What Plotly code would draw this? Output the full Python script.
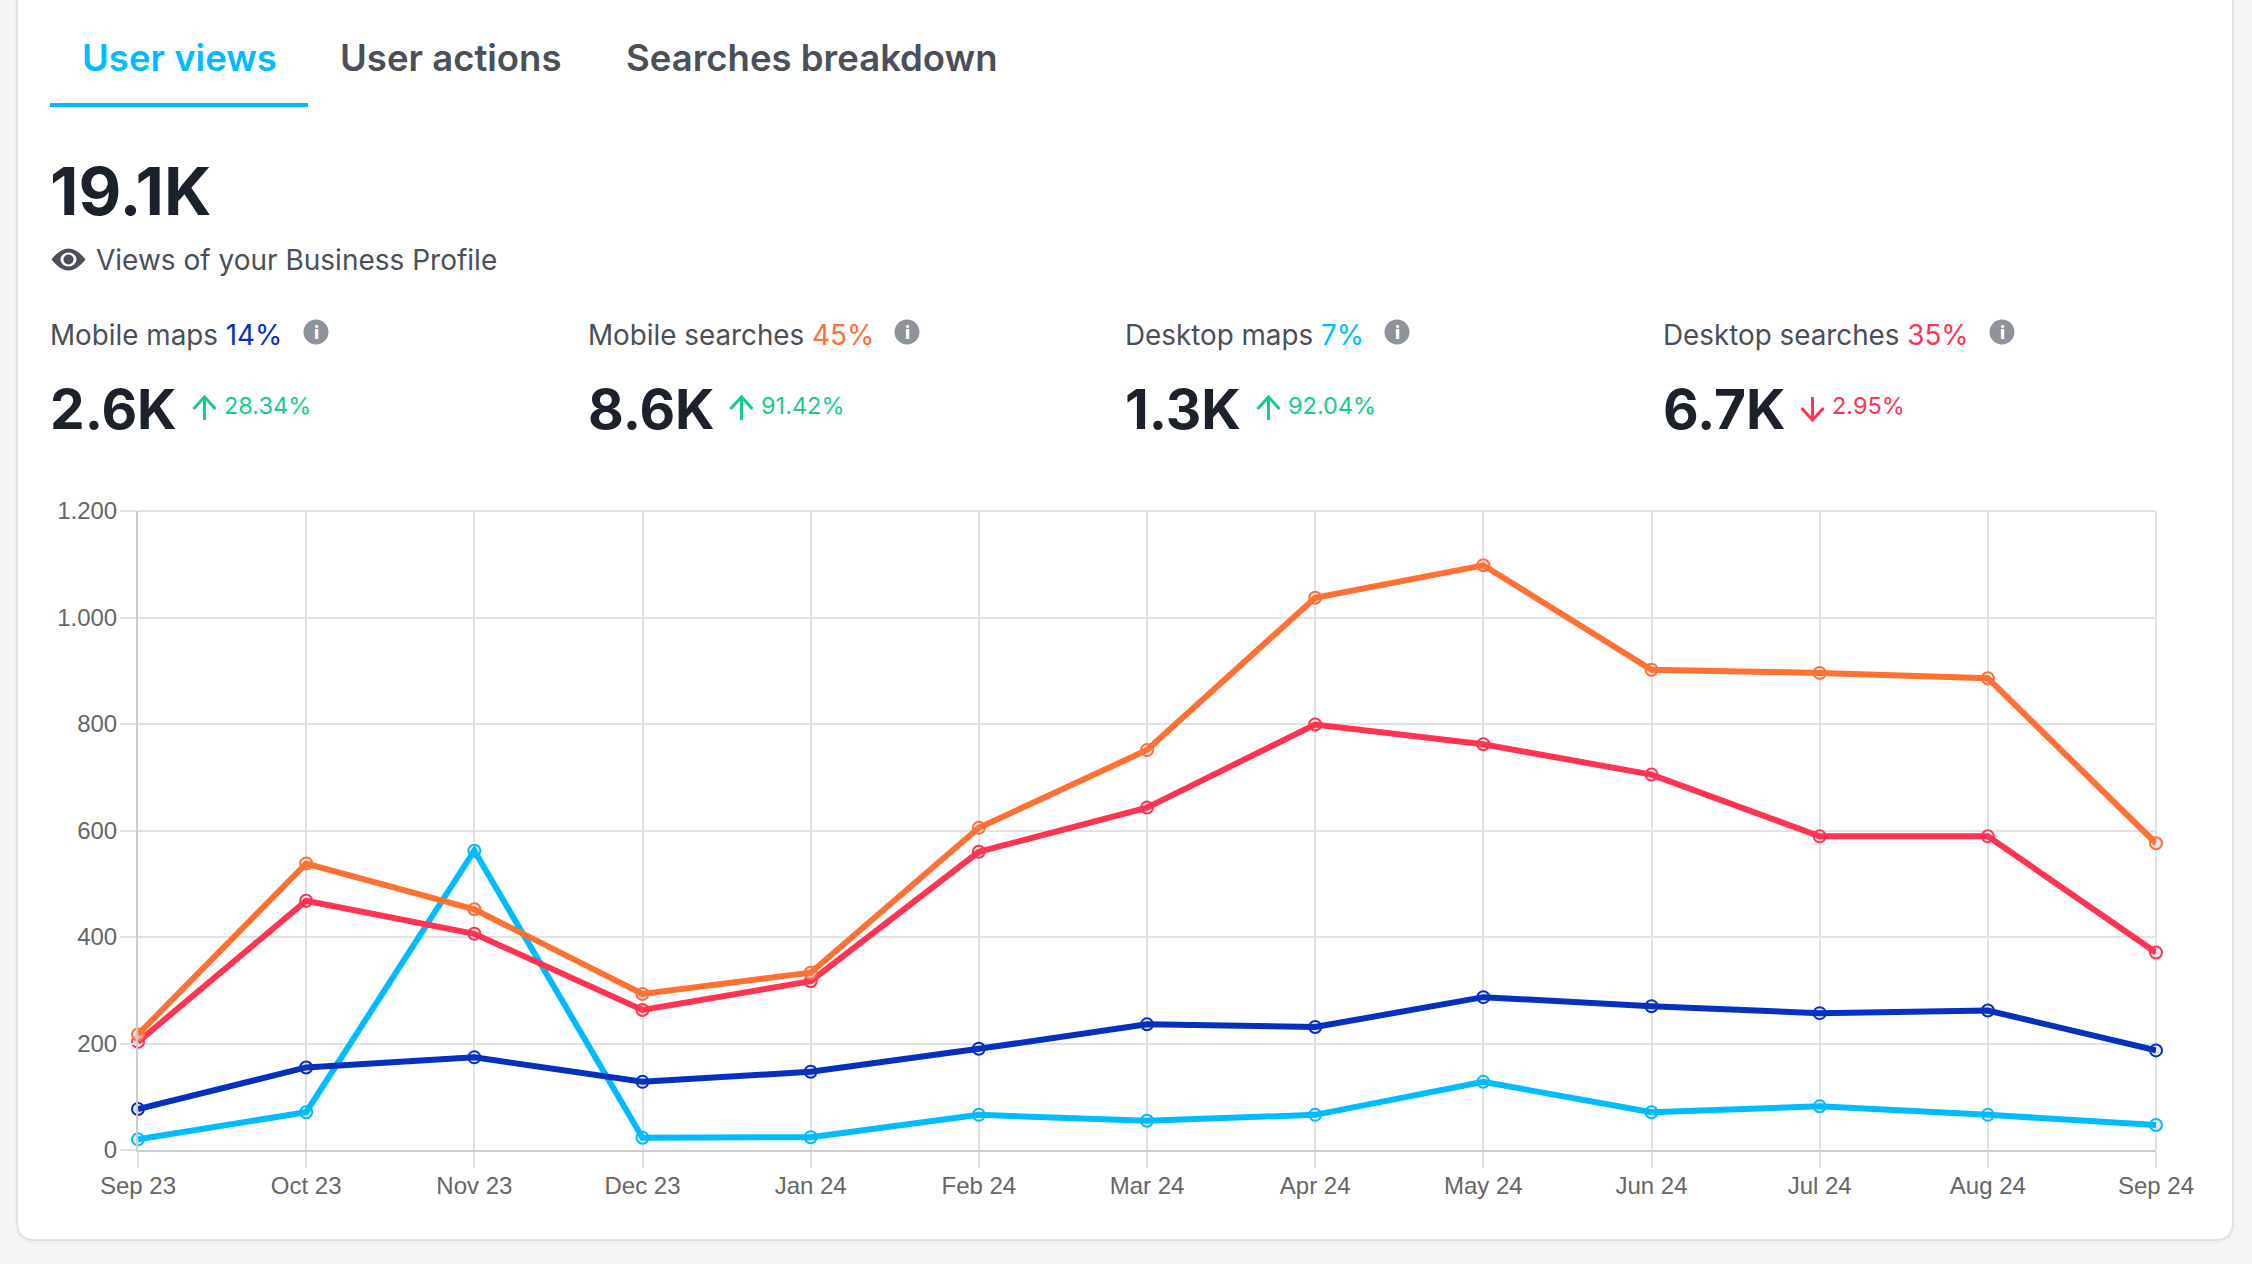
import plotly.graph_objects as go

W = 2252
H = 1264

months = ['Sep 23', 'Oct 23', 'Nov 23', 'Dec 23', 'Jan 24', 'Feb 24', 'Mar 24',
          'Apr 24', 'May 24', 'Jun 24', 'Jul 24', 'Aug 24', 'Sep 24']
mobile_maps = [77, 155, 174, 128, 147, 190, 236, 231, 287, 270, 257, 262, 187]
mobile_searches = [217, 538, 452, 293, 333, 605, 751, 1037, 1098, 902, 896, 886, 576]
desktop_maps = [20, 71, 562, 23, 24, 66, 55, 66, 128, 71, 82, 66, 47]
desktop_searches = [203, 468, 406, 263, 317, 560, 643, 799, 762, 705, 589, 589, 371]
y_ticks = [0, 200, 400, 600, 800, 1000, 1200]
y_labels = ['0', '200', '400', '600', '800', '1.000', '1.200']

BLUE = '#0531BD'
CYAN = '#00BCFF'
ORANGE = '#FF7033'
RED = '#FF3352'
GREEN = '#16CC88'
DARK = '#1C222C'
GREY = '#4A4F5A'
GRID = '#E2E2E2'

# name, value, share, colour, change, going up
tiles = [
    ('Mobile maps', '2.6K', '14%', BLUE, '28.34%', True),
    ('Mobile searches', '8.6K', '45%', ORANGE, '91.42%', True),
    ('Desktop maps', '1.3K', '7%', CYAN, '92.04%', True),
    ('Desktop searches', '6.7K', '35%', RED, '2.95%', False),
]
tile_x = [49, 587, 1124, 1662]
info_x = [316, 907, 1397, 2002]
arrow_x = [204.5, 741.5, 1268.5, 1812.5]
change_x = [223, 760, 1287, 1831]


# everything outside the plot is placed in screen pixels
def px(x):
    return x / W


def py(y):
    return 1 - y / H


def path(points):
    return 'M' + ' L'.join(f'{px(x):.5f},{py(y):.5f}' for x, y in points)


def label(text, x, y, size, color, weight=400, family='Inter'):
    fig.add_annotation(text=text, x=px(x), y=py(y), xref='paper', yref='paper',
                       xanchor='left', yanchor='middle', showarrow=False, borderpad=0,
                       font=dict(family=family, size=size, color=color, weight=weight))


def shape_path(d, fill=None, line=None, width=0):
    fig.add_shape(type='path', path=d, xref='paper', yref='paper', layer='below',
                  fillcolor=fill, line=dict(color=line, width=width))


def card_path(left, right, bottom, r):
    return (f'M{px(left):.5f},{py(-30):.5f} L{px(left):.5f},{py(bottom - r):.5f} '
            f'Q{px(left):.5f},{py(bottom):.5f} {px(left + r):.5f},{py(bottom):.5f} '
            f'L{px(right - r):.5f},{py(bottom):.5f} '
            f'Q{px(right):.5f},{py(bottom):.5f} {px(right):.5f},{py(bottom - r):.5f} '
            f'L{px(right):.5f},{py(-30):.5f} Z')


fig = go.Figure()


# markers go in first, the line runs over them
def add_series(name, values, color):
    fig.add_trace(go.Scatter(x=months, y=values, name=name, mode='markers',
                             cliponaxis=False,
                             marker=dict(size=12, color='rgba(222,222,222,0.7)',
                                         line=dict(color=color, width=2))))
    fig.add_trace(go.Scatter(x=months, y=values, name=name, mode='lines',
                             cliponaxis=False,
                             line=dict(color=color, width=6)))


add_series('Desktop maps', desktop_maps, CYAN)
add_series('Mobile maps', mobile_maps, BLUE)
add_series('Desktop searches', desktop_searches, RED)
add_series('Mobile searches', mobile_searches, ORANGE)

# card behind the chart, with a faint shadow under it
shape_path(card_path(15, 2235, 1244, 20), fill='#F0F0F0')
shape_path(card_path(17, 2233, 1240, 18), fill='#FFFFFF', line=GRID, width=2)

# plotly leaves out the grid lines on the far ends of the axes
shape_path(path([(138, 511), (2156, 511)]), line=GRID, width=2)
shape_path(path([(2156, 511), (2156, 1150)]), line=GRID, width=2)

# tabs
label('User views', 81, 58, 36.5, CYAN, 600)
label('User actions', 339, 58, 36.5, GREY, 600)
label('Searches breakdown', 625, 58, 36.5, GREY, 600)
fig.add_shape(type='rect', xref='paper', yref='paper', x0=px(50), x1=px(308),
              y0=py(103), y1=py(107), fillcolor=CYAN, line_width=0)

# headline
label('19.1K', 49, 191, 66, DARK, 700)
label('Views of your Business Profile', 95, 260, 28, GREY)

# eye icon
ex, ey = 68.5, 259.5
shape_path(f'M{px(ex - 17):.5f},{py(ey):.5f} '
           f'Q{px(ex):.5f},{py(ey - 22):.5f} {px(ex + 17):.5f},{py(ey):.5f} '
           f'Q{px(ex):.5f},{py(ey + 22):.5f} {px(ex - 17):.5f},{py(ey):.5f} Z',
           fill=GREY)
fig.add_shape(type='circle', xref='paper', yref='paper', x0=px(ex - 8), x1=px(ex + 8),
              y0=py(ey - 7), y1=py(ey + 7), fillcolor='#FFFFFF', line_width=0)
fig.add_shape(type='circle', xref='paper', yref='paper', x0=px(ex - 5), x1=px(ex + 5),
              y0=py(ey - 5), y1=py(ey + 5), fillcolor=GREY, line_width=0)

# the four tiles
for i, (name, value, share, color, change, up) in enumerate(tiles):
    x = tile_x[i]
    label(f'{name} <span style="color:{color}">{share}</span>', x, 335, 27.8, GREY)
    label(value, x, 409, 55, DARK, 700)

    ix = info_x[i]
    fig.add_shape(type='circle', xref='paper', yref='paper', x0=px(ix - 12.5), x1=px(ix + 12.5),
                  y0=py(332 - 12.5), y1=py(332 + 12.5), fillcolor='#8E9299', line_width=0)
    fig.add_annotation(text='i', x=px(ix), y=py(332), xref='paper', yref='paper', showarrow=False,
                       xanchor='center', yanchor='middle', borderpad=0,
                       font=dict(family='Inter', size=18, color='#FFFFFF', weight=800))

    change_color = GREEN if up else RED
    ax = arrow_x[i]
    tip, tail, wing = (397, 420, 409) if up else (420, 397, 408)
    fig.add_shape(type='path', path=path([(ax, tail), (ax, tip)]), xref='paper', yref='paper',
                  line=dict(color=change_color, width=3))
    fig.add_shape(type='path', path=path([(ax - 11, wing), (ax, tip), (ax + 11, wing)]),
                  xref='paper', yref='paper', line=dict(color=change_color, width=3))
    label(change, change_x[i], 406, 23.5, change_color)

fig.update_xaxes(type='category', range=[0, 12], domain=[px(138), px(2156)],
                 automargin=False,
                 showgrid=True, gridcolor=GRID, gridwidth=2,
                 showline=True, linecolor='#CCCCCC', linewidth=2,
                 ticks='outside', ticklen=16, tickwidth=2, tickcolor=GRID,
                 ticklabelstandoff=-3,
                 tickangle=0, zeroline=False,
                 tickfont=dict(family='Liberation Sans', size=24, color='#666666'))
fig.update_yaxes(range=[0, 1200], domain=[py(1150), py(511)],
                 automargin=False,
                 tickvals=y_ticks, ticktext=y_labels,
                 showgrid=True, gridcolor=GRID, gridwidth=2,
                 showline=True, linecolor='#CCCCCC', linewidth=2,
                 ticks='outside', ticklen=16, tickwidth=2, tickcolor=GRID,
                 ticklabelstandoff=-2,
                 zeroline=False,
                 tickfont=dict(family='Liberation Sans', size=24, color='#666666'))

fig.update_layout(width=W, height=H, showlegend=False,
                  margin=dict(l=0, r=0, t=0, b=0, pad=0),
                  paper_bgcolor='#F5F5F5', plot_bgcolor='rgba(0,0,0,0)')

# the page's default body margin would shift the whole picture
fig.write_html("out.html", config={'displayModeBar': False},
               post_script="document.body.style.margin='0';")
